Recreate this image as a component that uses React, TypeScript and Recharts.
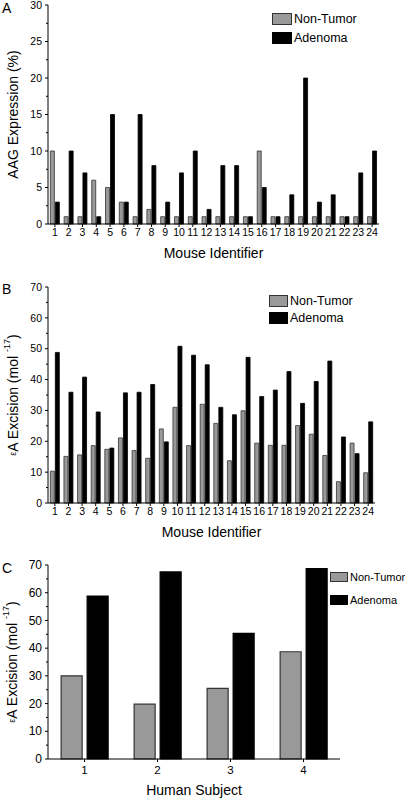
import { BarChart, Bar, XAxis, YAxis, Label } from "recharts";

// Panel A: AAG expression per mouse
const MICE = ["1", "2", "3", "4", "5", "6", "7", "8", "9", "10", "11", "12", "13", "14", "15", "16", "17", "18", "19", "20", "21", "22", "23", "24"];
const A_NON_TUMOR = [10, 1, 1, 6, 5, 3, 1, 2, 1, 1, 1, 1, 1, 1, 1, 10, 1, 1, 1, 1, 1, 1, 1, 1];
const A_ADENOMA = [3, 10, 7, 1, 15, 3, 15, 8, 3, 7, 10, 2, 8, 8, 1, 5, 1, 4, 20, 3, 4, 1, 7, 10];
const A_TICKS = [0, 2.5, 5, 7.5, 10, 12.5, 15, 17.5, 20, 22.5, 25, 27.5, 30];

// Panel B: eA excision per mouse
const B_NON_TUMOR = [10.3, 15.1, 15.6, 18.6, 17.4, 21.1, 17.0, 14.5, 24.0, 31.0, 18.6, 32.0, 25.8, 13.7, 29.9, 19.4, 18.7, 18.7, 25.1, 22.3, 15.4, 6.9, 19.4, 9.8];
const B_ADENOMA = [48.8, 35.9, 40.8, 29.5, 17.8, 35.7, 35.9, 38.4, 19.8, 50.8, 47.9, 44.8, 31.0, 28.6, 47.2, 34.5, 36.6, 42.6, 32.3, 39.4, 46.0, 21.4, 16.0, 26.3];

// Panel C: eA excision per human subject
const SUBJECTS = ["1", "2", "3", "4"];
const C_NON_TUMOR = [30, 19.8, 25.5, 38.7];
const C_ADENOMA = [58.8, 67.5, 45.3, 68.7];
const EXCISION_TICKS = [0, 5, 10, 15, 20, 25, 30, 35, 40, 45, 50, 55, 60, 65, 70];

const SERIES = [
  { key: "nonTumor", label: "Non-Tumor", fill: "#999999", stroke: "#333333" },
  { key: "adenoma", label: "Adenoma", fill: "#000000", stroke: "#000000" },
];

const FONT = '"Liberation Sans", Arial, Helvetica, sans-serif';

const toRows = (cats: string[], nt: number[], ad: number[]) =>
  cats.map((id, i) => ({ id, nonTumor: nt[i], adenoma: ad[i] }));

const dataA = toRows(MICE, A_NON_TUMOR, A_ADENOMA);
const dataB = toRows(MICE, B_NON_TUMOR, B_ADENOMA);
const dataC = toRows(SUBJECTS, C_NON_TUMOR, C_ADENOMA);

// y tick with minor marks: labels only on multiples of `major`
function makeYTick(major: number, fontSize: number) {
  // eslint-disable-next-line @typescript-eslint/no-explicit-any
  return function YTick({ x, y, payload }: any) {
    const isMajor = payload.value % major === 0;
    return (
      <g>
        <line x1={x + (isMajor ? 3 : 4)} x2={x + 6} y1={y} y2={y} stroke="#000" strokeWidth={1} />
        {isMajor && (
          <text x={x} y={y} dy="0.35em" textAnchor="end" fontSize={fontSize} fill="#000" fontFamily={FONT}>
            {payload.value}
          </text>
        )}
      </g>
    );
  };
}

// rotated y axis title
function yTitle(kind: "aag" | "excision", dx: number, dy: number) {
  // eslint-disable-next-line @typescript-eslint/no-explicit-any
  return (props: any) => {
    const vb = props.viewBox;
    const cx = vb.x + dx;
    const cy = vb.y + vb.height / 2 + dy;
    return (
      <text
        x={cx}
        y={cy}
        transform={`rotate(-90 ${cx} ${cy})`}
        textAnchor="middle"
        dominantBaseline="central"
        fontSize={14}
        fontFamily={FONT}
        fill="#000"
      >
        {kind === "aag" ? (
          "AAG Expression (%)"
        ) : (
          <>
            <tspan fontSize={9}>ε</tspan>
            <tspan>A Excision (mol </tspan>
            <tspan fontSize={9} dy={-6}>-17</tspan>
            <tspan dy={6}>)</tspan>
          </>
        )}
      </text>
    );
  };
}

function Legend({ left, top, box, gap, fontSize }: { left: number; top: number; box: [number, number]; gap: number; fontSize: number }) {
  return (
    <div style={{ position: "absolute", left, top, fontFamily: FONT, fontSize, lineHeight: `${box[1]}px`, whiteSpace: "nowrap" }}>
      {SERIES.map((s, i) => (
        <div key={s.key} style={{ display: "flex", alignItems: "center", marginTop: i ? gap : 0 }}>
          <span
            style={{
              width: box[0],
              height: box[1],
              flexShrink: 0,
              boxSizing: "border-box",
              background: s.fill,
              border: `1px solid ${s.stroke}`,
              marginRight: 2,
              display: "inline-block",
            }}
          />
          <span>{s.label}</span>
        </div>
      ))}
    </div>
  );
}

function PanelLetter({ text, top }: { text: string; top: number }) {
  return (
    <div style={{ position: "absolute", left: 2, top, fontFamily: FONT, fontSize: 14, lineHeight: "14px" }}>{text}</div>
  );
}

interface MouseProps {
  data: { id: string; nonTumor: number; adenoma: number }[];
  height: number;
  marginTop: number;
  marginRight: number;
  max: number;
  ticks: number[];
  major: number;
  kind: "aag" | "excision";
}

function MousePanel({ data, height, marginTop, marginRight, max, ticks, major, kind }: MouseProps) {
  return (
    <BarChart
      width={408}
      height={height}
      data={data}
      margin={{ top: marginTop, right: marginRight, left: 0, bottom: 0 }}
      barCategoryGap="17%"
      barGap={1}
    >
      <XAxis
        dataKey="id"
        height={40}
        tickSize={3}
        tickMargin={2}
        interval={0}
        axisLine={{ stroke: "#000" }}
        tickLine={{ stroke: "#000" }}
        tick={{ fontSize: 10.5, fill: "#000", fontFamily: FONT }}
      >
        <Label value="Mouse Identifier" position="insideBottom" offset={6} fontSize={14} fill="#000" fontFamily={FONT} />
      </XAxis>
      <XAxis xAxisId="frame" orientation="top" height={0} tick={false} tickLine={false} axisLine={{ stroke: "#888" }} />
      <YAxis
        width={48}
        domain={[0, max]}
        ticks={ticks}
        interval={0}
        tickSize={3}
        tickMargin={3}
        tickLine={false}
        axisLine={{ stroke: "#000" }}
        tick={makeYTick(major, 10.5)}
        label={yTitle(kind, 13, 0)}
      />
      <YAxis yAxisId="frame" orientation="right" width={0} tick={false} tickLine={false} axisLine={{ stroke: "#888" }} />
      {SERIES.map((s) => (
        <Bar key={s.key} dataKey={s.key} fill={s.fill} stroke={s.stroke} strokeWidth={0.8} isAnimationActive={false} />
      ))}
    </BarChart>
  );
}

export default function App() {
  return (
    <div style={{ position: "fixed", left: 0, top: 0, width: 408, height: 799, background: "#fff", overflow: "hidden" }}>
      <div style={{ position: "absolute", left: 0, top: 0 }}>
        <MousePanel data={dataA} height={264} marginTop={5} marginRight={29} max={30} ticks={A_TICKS} major={5} kind="aag" />
      </div>
      <div style={{ position: "absolute", left: 0, top: 270 }}>
        <MousePanel data={dataB} height={273} marginTop={17} marginRight={33} max={70} ticks={EXCISION_TICKS} major={10} kind="excision" />
      </div>
      <div style={{ position: "absolute", left: 0, top: 545 }}>
        <BarChart
          width={408}
          height={254}
          data={dataC}
          margin={{ top: 20, right: 68, left: 0, bottom: 0 }}
          barCategoryGap="18%"
          barGap={5}
        >
          <XAxis
            dataKey="id"
            height={40}
            tickSize={3}
            tickMargin={4}
            axisLine={{ stroke: "#000" }}
            tickLine={{ stroke: "#000" }}
            tick={{ fontSize: 11.5, fill: "#000", fontFamily: FONT }}
          >
            <Label value="Human Subject" position="insideBottom" offset={4} fontSize={14} fill="#000" fontFamily={FONT} />
          </XAxis>
          <YAxis
            width={48}
            domain={[0, 70]}
            ticks={EXCISION_TICKS}
            interval={0}
            tickSize={3}
            tickMargin={3}
            tickLine={false}
            axisLine={{ stroke: "#000" }}
            tick={makeYTick(10, 12)}
            label={yTitle("excision", 12, 0)}
          />
          {SERIES.map((s) => (
            <Bar key={s.key} dataKey={s.key} fill={s.fill} stroke={s.stroke} strokeWidth={1.2} isAnimationActive={false} />
          ))}
        </BarChart>
      </div>
      <Legend left={272} top={13} box={[20, 12]} gap={7} fontSize={12.5} />
      <Legend left={269} top={295} box={[19, 12]} gap={5} fontSize={12.5} />
      <Legend left={330} top={572} box={[18, 10]} gap={13} fontSize={11} />
      <PanelLetter text="A" top={1} />
      <PanelLetter text="B" top={282} />
      <PanelLetter text="C" top={561} />
    </div>
  );
}
